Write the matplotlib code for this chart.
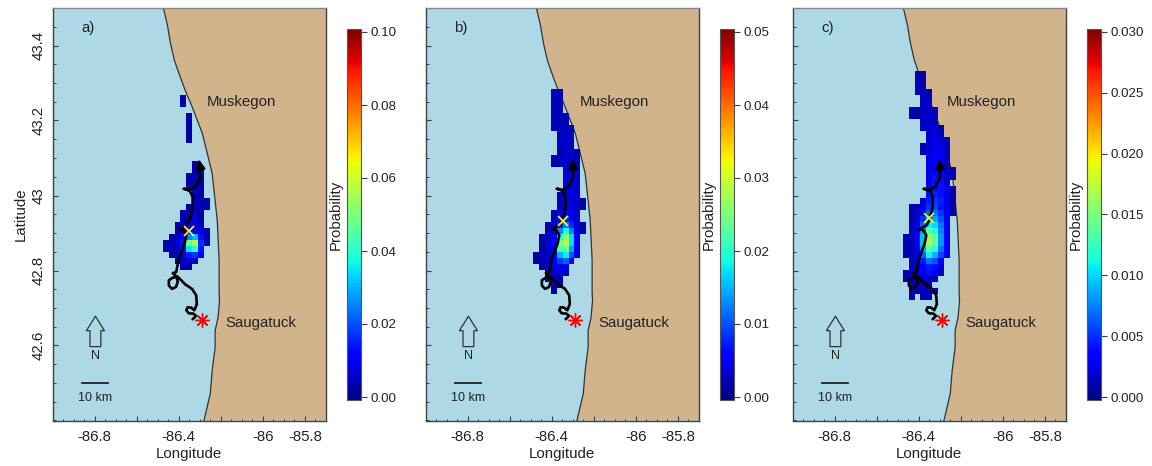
import numpy as np
import matplotlib
matplotlib.use('Agg')
import matplotlib.pyplot as plt
from matplotlib.patches import FancyArrowPatch
from matplotlib.ticker import FixedLocator, MultipleLocator

plt.rcParams['font.family'] = ['Liberation Sans', 'DejaVu Sans']

# coastline, lon / lat
coast_lon = [-86.473, -86.454, -86.440, -86.421, -86.393, -86.364, -86.345, -86.288, -86.241, -86.217,
             -86.208, -86.208, -86.206, -86.213, -86.227, -86.227, -86.241, -86.250, -86.280]
coast_lat = [43.500, 43.455, 43.408, 43.361, 43.316, 43.273, 43.249, 43.166, 43.059, 42.934,
             42.827, 42.739, 42.720, 42.675, 42.640, 42.595, 42.533, 42.472, 42.400]

# drifter track
track_lon = [-86.334, -86.318, -86.330, -86.353, -86.364, -86.358, -86.341, -86.326, -86.314, -86.317,
             -86.337, -86.369, -86.404, -86.428, -86.447, -86.447, -86.432, -86.413, -86.405, -86.409,
             -86.428, -86.412, -86.401, -86.390, -86.372, -86.364, -86.377, -86.398, -86.361,
             -86.345, -86.334, -86.334, -86.345, -86.361, -86.377, -86.353, -86.322, -86.301, -86.298]
track_lat = [42.670, 42.679, 42.685, 42.686, 42.694, 42.702, 42.701, 42.694, 42.710, 42.734,
             42.751, 42.763, 42.783, 42.781, 42.774, 42.760, 42.751, 42.756, 42.769, 42.783,
             42.793, 42.796, 42.827, 42.845, 42.872, 42.894, 42.907, 42.910, 42.921,
             42.943, 42.969, 42.996, 43.010, 43.017, 43.018, 43.014, 43.023, 43.045, 43.072]
arrow_tip = (-86.303, 43.096)
star = (-86.288, 42.669)

labels = ['a)', 'b)', 'c)']
vmax_list = [0.10, 0.05, 0.03]
cbar_ticks = [[0.00, 0.02, 0.04, 0.06, 0.08, 0.10],
              [0.00, 0.01, 0.02, 0.03, 0.04, 0.05],
              [0.000, 0.005, 0.010, 0.015, 0.020, 0.025, 0.030]]
cbar_fmt = ['%.2f', '%.2f', '%.3f']
cross_lon = [-86.353, -86.347, -86.352]
cross_lat = [42.905, 42.932, 42.939]

# grid origin (upper left cell corner)
grid_lon0 = [-86.477, -86.491, -86.477]
grid_lat0 = [43.267, 43.283, 43.331]
cell_lon = 0.02846
cell_lat = 0.01602

# probabilities in units of 1e-4, rows run north to south, 0 = nothing
prob_a = [
    [0, 0, 0, 30, 0, 0, 0, 0],
    [0, 0, 0, 30, 0, 0, 0, 0],
    [0, 0, 0, 0, 0, 0, 0, 0],
    [0, 0, 0, 0, 30, 0, 0, 0],
    [0, 0, 0, 0, 30, 0, 0, 0],
    [0, 0, 0, 0, 30, 0, 0, 0],
    [0, 0, 0, 0, 30, 0, 0, 0],
    [0, 0, 0, 0, 30, 0, 0, 0],
    [0, 0, 0, 0, 0, 0, 0, 0],
    [0, 0, 0, 0, 0, 0, 0, 0],
    [0, 0, 0, 0, 0, 0, 0, 0],
    [0, 0, 0, 0, 0, 30, 0, 0],
    [0, 0, 0, 0, 0, 30, 25, 0],
    [0, 0, 0, 0, 30, 40, 30, 0],
    [0, 0, 0, 0, 30, 40, 30, 0],
    [0, 0, 0, 0, 30, 40, 30, 0],
    [0, 0, 0, 0, 0, 40, 30, 0],
    [0, 0, 0, 0, 0, 40, 40, 25],
    [0, 0, 0, 0, 25, 50, 40, 25],
    [0, 0, 0, 25, 40, 60, 30, 0],
    [0, 0, 0, 30, 50, 70, 35, 0],
    [0, 0, 25, 50, 70, 85, 40, 0],
    [0, 0, 30, 60, 90, 120, 70, 25],
    [0, 25, 50, 100, 260, 300, 130, 40],
    [30, 40, 70, 140, 480, 560, 170, 40],
    [30, 40, 65, 130, 350, 400, 140, 0],
    [0, 25, 50, 90, 150, 170, 80, 0],
    [0, 0, 30, 50, 70, 60, 0, 0],
    [0, 0, 0, 30, 30, 0, 0, 0],
]

prob_b = [
    [0, 0, 0, 20, 20, 0, 0, 0, 0],
    [0, 0, 0, 20, 20, 0, 0, 0, 0],
    [0, 0, 0, 20, 20, 0, 0, 0, 0],
    [0, 0, 0, 20, 20, 0, 0, 0, 0],
    [0, 0, 0, 20, 25, 20, 0, 0, 0],
    [0, 0, 0, 20, 25, 20, 0, 0, 0],
    [0, 0, 0, 20, 25, 25, 20, 0, 0],
    [0, 0, 0, 0, 25, 30, 25, 0, 0],
    [0, 0, 0, 0, 25, 30, 25, 0, 0],
    [0, 0, 0, 0, 25, 30, 25, 0, 0],
    [0, 0, 0, 0, 20, 30, 30, 20, 0],
    [0, 0, 0, 15, 25, 30, 30, 20, 0],
    [0, 0, 0, 15, 20, 30, 35, 25, 0],
    [0, 0, 0, 0, 0, 30, 40, 30, 0],
    [0, 0, 0, 0, 0, 35, 40, 30, 0],
    [0, 0, 0, 0, 0, 35, 40, 30, 0],
    [0, 0, 0, 0, 0, 35, 40, 30, 0],
    [0, 0, 0, 0, 20, 40, 40, 30, 0],
    [0, 0, 0, 0, 25, 40, 40, 30, 15],
    [0, 0, 0, 0, 30, 40, 40, 25, 15],
    [0, 0, 0, 20, 40, 55, 45, 25, 0],
    [0, 0, 0, 25, 50, 75, 60, 30, 0],
    [0, 0, 15, 30, 80, 120, 80, 35, 15],
    [0, 0, 20, 40, 130, 190, 120, 40, 20],
    [0, 15, 25, 55, 200, 260, 170, 50, 0],
    [0, 15, 30, 65, 250, 280, 170, 50, 0],
    [0, 15, 30, 60, 220, 250, 140, 45, 0],
    [10, 20, 30, 55, 150, 180, 100, 40, 0],
    [10, 20, 30, 50, 90, 110, 60, 0, 0],
    [0, 15, 25, 40, 60, 50, 0, 0, 0],
    [0, 0, 20, 30, 35, 20, 0, 0, 0],
    [0, 0, 15, 20, 20, 0, 0, 0, 0],
    [0, 0, 0, 15, 15, 0, 0, 0, 0],
    [0, 0, 0, 15, 0, 0, 0, 0, 0],
]

prob_c = [
    [0, 0, 10, 10, 0, 0, 0, 0, 0],
    [0, 0, 10, 10, 0, 0, 0, 0, 0],
    [0, 0, 10, 10, 0, 0, 0, 0, 0],
    [0, 0, 10, 15, 10, 0, 0, 0, 0],
    [0, 0, 0, 15, 15, 0, 0, 0, 0],
    [0, 0, 0, 15, 20, 0, 0, 0, 0],
    [0, 10, 10, 15, 20, 15, 0, 0, 0],
    [0, 10, 10, 15, 20, 15, 0, 0, 0],
    [0, 0, 0, 15, 20, 15, 0, 0, 0],
    [0, 0, 0, 15, 20, 20, 10, 0, 0],
    [0, 0, 0, 0, 20, 25, 15, 0, 0],
    [0, 0, 0, 0, 20, 25, 20, 15, 0],
    [0, 0, 0, 10, 20, 25, 25, 15, 0],
    [0, 0, 0, 10, 20, 30, 25, 15, 0],
    [0, 0, 0, 0, 25, 30, 30, 15, 0],
    [0, 0, 0, 0, 25, 35, 30, 15, 0],
    [0, 0, 0, 0, 25, 35, 30, 20, 10],
    [0, 0, 0, 0, 30, 40, 35, 20, 10],
    [0, 0, 0, 0, 30, 40, 40, 20, 0],
    [0, 0, 0, 0, 35, 40, 40, 25, 10],
    [0, 0, 0, 0, 40, 45, 40, 25, 10],
    [0, 0, 0, 20, 45, 50, 45, 30, 10],
    [0, 10, 15, 25, 50, 55, 40, 25, 10],
    [0, 10, 20, 35, 65, 70, 50, 30, 10],
    [0, 10, 20, 50, 85, 85, 60, 30, 0],
    [0, 15, 30, 65, 110, 100, 70, 35, 0],
    [0, 15, 30, 80, 135, 120, 75, 35, 0],
    [10, 15, 35, 95, 160, 140, 80, 35, 0],
    [10, 15, 35, 95, 165, 140, 80, 35, 0],
    [10, 15, 35, 85, 140, 120, 70, 30, 0],
    [10, 15, 30, 65, 110, 90, 55, 25, 0],
    [0, 15, 25, 45, 70, 60, 35, 0, 0],
    [0, 15, 20, 35, 45, 40, 25, 0, 0],
    [10, 15, 20, 30, 40, 30, 15, 0, 0],
    [10, 15, 15, 20, 20, 15, 0, 0, 0],
    [0, 10, 15, 15, 10, 0, 0, 0, 0],
    [0, 10, 10, 15, 15, 10, 0, 0, 0],
    [0, 10, 0, 10, 10, 0, 0, 0, 0],
]
prob_all = [prob_a, prob_b, prob_c]

W, H = 1152, 466
axes_left = [52.5, 425.5, 792.5]
cbar_left = [347, 720, 1087]
edge = '#404040'

fig = plt.figure(figsize=(W / 100, H / 100), dpi=100)

for i in range(3):
    ax = fig.add_axes([axes_left[i] / W, 1 - 420.5 / H, 273.5 / W, 412.5 / H])
    ax.set_facecolor('#add8e6')
    ax.set_xlim(-87, -85.7)
    ax.set_ylim(42.4, 43.5)

    # land east of the shore
    ax.fill(coast_lon + [-85.7, -85.7], coast_lat + [42.4, 43.5], color='#d2b48c', lw=0, zorder=1)
    ax.plot(coast_lon, coast_lat, color='#333333', lw=0.9, zorder=1.5)

    grid = np.array(prob_all[i], dtype=float) * 1e-4
    grid = np.ma.masked_equal(grid, 0)
    xe = grid_lon0[i] + cell_lon * np.arange(grid.shape[1] + 1)
    ye = grid_lat0[i] - cell_lat * np.arange(grid.shape[0] + 1)
    vmax = vmax_list[i]
    pad = vmax * 3 / 365
    mesh = ax.pcolormesh(xe, ye, grid, cmap='jet', vmin=-pad, vmax=vmax + pad, zorder=2)

    ax.plot(track_lon, track_lat, color='k', lw=1.9, solid_capstyle='round', zorder=3)
    ax.annotate('', xy=arrow_tip, xytext=(track_lon[-1], track_lat[-1]), zorder=3,
                arrowprops=dict(arrowstyle='-|>,head_length=0.55,head_width=0.3', color='k', lw=1.5,
                                shrinkA=0, shrinkB=0))
    ax.plot(star[0], star[1], marker=(8, 2, 0), ms=10, color='red', mew=1.0, zorder=4)
    ax.plot(cross_lon[i], cross_lat[i], marker='x', ms=7, color='#ffee22', mew=1.3, zorder=4)

    ax.text(-86.269, 43.249, 'Muskegon', fontsize=10.8, va='center', color='#222222')
    ax.text(-86.179, 42.659, 'Saugatuck', fontsize=10.8, va='center', color='#222222')
    ax.text(-86.862, 43.447, labels[i], fontsize=10.8, va='center', color='#222222')

    # north arrow and scale bar
    ax.add_patch(FancyArrowPatch((-86.796, 42.597), (-86.796, 42.678), fc='none', ec='#333333', lw=0.9,
                                 arrowstyle='simple,head_length=0.8,head_width=1.0,tail_width=0.6',
                                 mutation_scale=13, shrinkA=0, shrinkB=0, zorder=3))
    ax.text(-86.796, 42.573, 'N', fontsize=9, ha='center', va='center', color='#222222')
    ax.plot([-86.862, -86.734], [42.501, 42.501], color='#222222', lw=1.3)
    ax.text(-86.798, 42.459, '10 km', fontsize=9, ha='center', va='center', color='#222222')

    ax.xaxis.set_major_locator(FixedLocator([-86.8, -86.6, -86.4, -86.2, -86, -85.8]))
    ax.set_xticklabels(['-86.8', '', '-86.4', '', '-86', '-85.8'])
    ax.xaxis.set_minor_locator(MultipleLocator(0.05))
    ax.yaxis.set_major_locator(FixedLocator([42.6, 42.8, 43, 43.2, 43.4]))
    ax.yaxis.set_minor_locator(MultipleLocator(0.05))
    if i == 0:
        ax.set_yticklabels(['42.6', '42.8', '43', '43.2', '43.4'], rotation=90, va='center')
        ax.set_ylabel('Latitude', fontsize=10.8, color='#222222', labelpad=3)
    else:
        ax.set_yticklabels([])
    ax.tick_params(which='major', direction='in', length=3.5, width=0.8, color=edge,
                   labelsize=10.8, labelcolor='#222222', pad=7)
    ax.tick_params(axis='y', which='major', pad=5)
    ax.tick_params(which='minor', direction='in', length=1.8, width=0.7, color=edge)
    ax.set_xlabel('Longitude', fontsize=10.8, color='#222222', labelpad=2)
    for s in ax.spines.values():
        s.set_color(edge)
        s.set_linewidth(1.0)
    ax.spines['top'].set_color('#888888')

    cax = fig.add_axes([cbar_left[i] / W, 1 - 400 / H, 13.5 / W, 371 / H])
    cb = fig.colorbar(mesh, cax=cax)
    cb.set_ticks(cbar_ticks[i])
    cb.ax.set_yticklabels([cbar_fmt[i] % t for t in cbar_ticks[i]])
    cb.ax.tick_params(direction='out', length=4.5, width=0.8, color=edge, labelsize=9.6,
                      labelcolor='#222222', pad=3)
    cb.outline.set_edgecolor('#555555')
    cb.outline.set_linewidth(0.8)
    cb.ax.yaxis.set_label_position('left')
    cb.set_label('Probability', fontsize=10.8, color='#222222', labelpad=3)

fig.savefig('out.png', dpi=100)
